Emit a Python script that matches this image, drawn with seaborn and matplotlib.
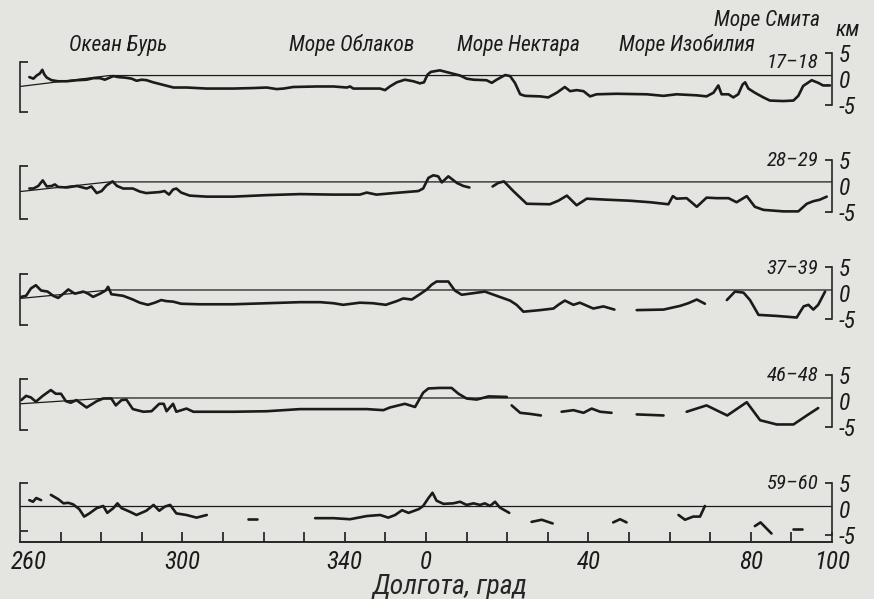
import numpy as np
import pandas as pd
import matplotlib.pyplot as plt
import matplotlib.transforms as mtransforms
import seaborn as sns

# === профили высот (долгота: 260..360 -> -100..0), км ===
nan = np.nan

lon_17 = [-97.7, -96.7, -95.9, -95.1, -94.5, -94.0, -93.4, -92.2, -90.6, -88.5,
          -86.0, -83.6, -81.9, -80.3, -79.1, -78.2, -77.0, -75.8, -74.1, -72.5,
          -71.3, -70.0, -68.8, -67.2, -64.7, -62.2, -58.9, -54.0, -47.5, -42.5,
          -39.2, -36.8, -35.1, -32.7, -26.9, -22.8, -19.5, -18.7, -17.9, -14.6,
          -11.3, -10.1, -8.9, -7.2, -5.2, -3.1, -1.5, -0.5, 0.4, 1.2,
          3.4, 5.9, 8.4, 10.0, 11.7, 14.9, 16.2, 17.4, 19.5, 20.7,
          21.9, 23.2, 24.4, 28.1, 30.1, 32.2, 34.2, 35.5, 37.1, 38.8,
          40.4, 42.0, 46.9, 54.4, 58.5, 61.7, 66.7, 69.1, 70.8, 72.0,
          72.8, 74.5, 75.7, 76.9, 78.0, 78.6, 79.4, 81.0, 83.1, 84.7,
          88.0, 90.5, 91.7, 92.9, 95.0, 96.6, 97.8, 99.5]
km_17 = [-0.3, -0.6, 0.0, 0.4, 1.1, 0.2, -0.4, -0.9, -1.1, -1.1,
         -0.9, -0.8, -0.5, -0.5, -0.8, -0.5, -0.1, -0.3, -0.4, -0.6,
         -1.0, -0.8, -0.9, -1.3, -1.8, -2.3, -2.3, -2.5, -2.5, -2.4,
         -2.3, -2.6, -2.5, -2.2, -2.1, -2.1, -2.3, -2.1, -2.5, -2.5,
         -2.5, -2.8, -2.1, -1.3, -0.8, -1.1, -1.5, -1.3, 0.2, 0.7,
         1.0, 0.5, 0.0, -0.6, -0.8, -0.9, -1.4, -0.8, 0.1, -0.1,
         -1.4, -3.6, -3.9, -4.0, -4.2, -3.3, -2.2, -3.0, -2.8, -3.0,
         -4.0, -3.6, -3.5, -3.6, -3.9, -3.6, -3.8, -4.0, -3.3, -1.9,
         -3.6, -3.6, -4.2, -3.6, -1.7, -1.3, -2.5, -3.3, -4.2, -4.8,
         -4.9, -4.8, -3.9, -2.0, -0.9, -1.4, -1.9, -1.9]

lon_28 = [-97.7, -96.7, -95.5, -94.4, -93.4, -92.2, -91.4, -90.6, -88.5, -86.0,
          -83.6, -82.4, -81.1, -79.9, -78.7, -77.2, -76.1, -74.6, -72.2, -70.5,
          -68.9, -65.6, -64.4, -63.3, -62.3, -61.5, -60.3, -58.2, -54.0, -47.5,
          -39.2, -31.0, -22.8, -16.3, -14.6, -12.2, -8.0, -1.9, -0.7, 0.6,
          1.8, 3.0, 3.9, 5.5, 7.6, 9.2, 10.7, nan, 16.4, 17.8,
          19.2, 21.5, 24.8, 30.5, 32.6, 34.7, 37.1, 39.6, 44.5, 50.2,
          55.2, 59.7, 60.8, 61.7, 64.2, 66.7, 69.1, 71.6, 74.5, 76.5,
          79.0, 81.0, 83.1, 88.0, 91.7, 93.8, 95.4, 97.0, 98.7]
km_28 = [-1.3, -1.3, -0.8, 0.3, -0.9, -0.8, -0.5, -1.0, -1.1, -0.8,
         -1.3, -0.9, -2.2, -1.8, -0.7, 0.1, -0.8, -1.3, -1.3, -1.9,
         -2.2, -2.0, -1.8, -2.5, -1.5, -1.3, -2.1, -2.7, -2.9, -2.9,
         -2.6, -2.4, -2.5, -2.5, -2.1, -2.5, -2.2, -1.8, -1.3, 0.8,
         1.3, 1.1, -0.1, 1.1, -0.2, -0.8, -1.1, nan, -0.9, -0.2,
         0.1, -1.8, -4.3, -4.4, -3.7, -2.7, -4.6, -3.3, -3.5, -3.7,
         -4.0, -4.4, -2.8, -3.3, -3.2, -4.9, -3.1, -3.2, -3.2, -4.0,
         -2.8, -4.9, -5.5, -5.8, -5.8, -4.3, -3.8, -3.5, -2.9]

lon_37 = [-99.7, -98.5, -97.3, -96.1, -94.8, -93.2, -91.8, -90.6, -89.3, -88.1,
          -86.5, -84.4, -83.2, -82.0, -80.3, -78.9, -78.3, -77.5, -74.6, -72.2,
          -70.5, -68.5, -66.8, -65.2, -64.0, -62.3, -60.3, -55.7, -47.5, -39.2,
          -31.0, -26.1, -22.8, -20.4, -16.3, -13.1, -9.9, -7.2, -5.6, -3.5,
          -1.5, 0.2, 1.4, 2.6, 5.5, 7.1, 8.8, 11.7, 14.5, 17.4,
          20.7, 22.3, 24.0, 28.1, 31.4, 32.6, 34.2, 36.3, 37.9, 41.2,
          43.7, 46.4, nan, 51.9, 58.5, 62.6, 64.6, 66.7, 68.7, nan,
          74.1, 76.1, 78.2, 79.8, 81.9, 86.4, 91.3, 93.0, 94.2, 95.4,
          96.6, 98.3]
km_37 = [-1.3, -1.1, 0.3, 0.9, -0.1, -0.3, -1.1, -1.5, -0.7, 0.1,
         -0.7, -0.3, -0.7, -1.3, -0.7, -0.1, 0.6, -0.8, -1.1, -1.8,
         -2.4, -2.8, -2.4, -1.9, -2.1, -2.2, -2.6, -2.7, -2.7, -2.5,
         -2.3, -2.3, -2.5, -2.8, -2.4, -2.5, -2.8, -2.1, -1.6, -1.8,
         -0.8, 0.1, 1.0, 1.6, 1.6, -0.1, -0.9, -0.6, -0.3, -1.1,
         -2.0, -2.8, -4.1, -3.8, -3.5, -2.8, -2.0, -2.8, -2.4, -3.5,
         -3.1, -3.7, nan, -3.8, -3.7, -3.0, -2.5, -1.8, -2.6, nan,
         -1.9, -0.3, -0.5, -1.9, -4.7, -4.9, -5.2, -3.1, -2.8, -3.7,
         -2.8, -0.3]

lon_46 = [-99.7, -98.5, -97.3, -96.1, -94.4, -92.4, -91.2, -89.9, -88.7, -87.5,
          -86.1, -83.6, -81.1, -79.5, -77.5, -76.4, -75.0, -73.8, -72.2, -69.6,
          -67.6, -65.7, -64.6, -63.9, -62.3, -61.5, -59.0, -57.3, -47.5, -39.2,
          -31.0, -22.8, -14.6, -10.5, -8.9, -5.2, -2.7, -0.7, 0.6, 3.4,
          6.3, 8.0, 10.0, 12.5, 15.4, 19.9, nan, 21.1, 23.2, 25.6,
          28.3, nan, 33.4, 36.3, 38.8, 40.8, 42.9, 45.7, nan, 51.9,
          58.5, nan, 64.2, 69.1, 74.2, 79.0, 82.3, 86.4, 90.5, 93.8,
          96.6]
km_46 = [-0.4, 0.4, 0.1, -0.7, 0.4, 1.5, 0.8, 0.8, -0.6, -0.9,
         -0.4, -1.8, -0.6, -0.1, -0.1, -1.4, -0.4, -0.3, -2.1, -2.6,
         -2.5, -1.1, -1.1, -2.5, -1.1, -2.6, -2.0, -2.6, -2.6, -2.5,
         -2.1, -2.1, -2.1, -2.3, -1.8, -1.1, -1.7, 1.0, 1.8, 1.9,
         1.9, 0.8, -0.1, -0.3, 0.3, 0.2, nan, -1.4, -2.8, -3.0,
         -3.3, nan, -2.6, -2.3, -2.8, -2.0, -2.6, -2.8, nan, -3.1,
         -3.3, nan, -2.6, -1.4, -3.3, -0.8, -4.2, -5.0, -5.0, -3.3,
         -1.9]

lon_59 = [-97.7, -96.8, -96.0, -94.8, nan, -92.4, -90.6, -89.3, -88.1, -86.9,
          -85.4, -84.2, -82.9, -81.1, -79.5, -78.5, -77.0, -76.0, -75.0, -72.9,
          -71.3, -68.9, -67.1, -65.7, -64.3, -63.0, -61.5, -59.0, -56.5, -54.0,
          nan, -43.8, -41.7, nan, -27.3, -22.8, -18.7, -14.6, -11.3, -9.3,
          -7.6, -5.9, -4.3, -1.8, -0.7, 0.6, 1.6, 2.6, 4.3, 6.7,
          8.4, 10.0, 11.7, 13.3, 14.5, 15.8, 17.0, 18.2, 20.5, nan,
          26.0, 28.5, 31.2, nan, 46.1, 47.8, 49.4, nan, 62.2, 63.8,
          65.8, 67.5, 68.7, nan, 81.0, 82.4, 85.1, nan, 90.5, 92.5]
km_59 = [1.1, 0.8, 1.5, 1.1, nan, 2.1, 1.3, 0.5, 0.6, 0.3,
         -0.6, -2.0, -1.4, -0.4, 0.0, -1.3, -0.4, 0.5, -0.4, -1.1,
         -1.7, -0.9, 0.2, -0.9, -0.1, 0.2, -1.4, -1.7, -2.2, -1.7,
         nan, -2.5, -2.5, nan, -2.3, -2.3, -2.5, -1.9, -1.7, -2.2,
         -1.7, -0.8, -1.3, -0.6, 0.0, 1.5, 2.5, 1.0, 0.4, 0.5,
         0.8, 0.2, 0.5, 0.2, 0.5, 0.0, 0.8, -0.3, -1.3, nan,
         -3.0, -2.6, -3.3, nan, -3.1, -2.5, -3.1, nan, -1.7, -2.6,
         -2.0, -2.0, 0.0, nan, -3.8, -3.1, -5.2, nan, -4.4, -4.4]

lat_labels = ['17–18', '28–29', '37–39', '46–48', '59–60']
lat_y = [2.5, 4.3, 4.1, 4.3, 4.3]
zero_left = [-2.1, -1.9, -1.6, -1.1, 0.0]      # начало наклонной нулевой линии
left_br = [(-7.0, 2.6), (-7.3, 3.1), (-6.6, 3.1), (-6.0, 3.5), (-4.8, 4.3)]
right_br = (-5.5, 4.3)

seas = ['Океан Бурь', 'Море Облаков', 'Море Нектара', 'Море Изобилия', 'Море Смита']
sea_x = [-75.9, -18.2, 22.7, 64.3, 84.0]
sea_y = [5.8, 5.8, 5.8, 5.8, 10.6]

xtick_pos = [-100, -60, -20, 0, 40, 80, 100]
xtick_lab = ['260', '300', '340', '0', '40', '80', '100']

profiles = [(lon_17, km_17), (lon_28, km_28), (lon_37, km_37),
            (lon_46, km_46), (lon_59, km_59)]

# === оформление ===
bg = '#e4e4e1'
ink = '#1b1b1b'
sns.set_theme(style='ticks')
plt.rcParams['font.family'] = ['Roboto Condensed', 'DejaVu Sans']
plt.rcParams['font.style'] = 'italic'
plt.rcParams['text.color'] = ink
plt.rcParams['xtick.color'] = ink
plt.rcParams['ytick.color'] = ink

fig = plt.figure(figsize=(8.74, 5.99), dpi=100, facecolor=bg)
zero_px = [76, 183, 290, 398, 506]
ylim = (-6.8, 5.0)

axes = []
for i, (lon, km) in enumerate(profiles):
    bottom = 1 - (zero_px[i] + 36) / 599
    ax = fig.add_axes([20 / 874, bottom, 812 / 874, 62.5 / 599])
    ax.set_facecolor('none')

    df = pd.DataFrame({'lon': lon, 'km': km})
    df['seg'] = df['lon'].isna().cumsum()
    df = df.dropna()

    # нулевой уровень
    ax.plot([-100, -78, 100], [zero_left[i], 0, 0], color=ink, lw=0.9)
    sns.lineplot(data=df, x='lon', y='km', units='seg', estimator=None, sort=False,
                 color=ink, lw=1.9, ax=ax)

    ax.set_xlim(-100, 100)
    ax.set_ylim(*ylim)
    ax.set_xlabel('')
    ax.set_ylabel('')

    # левая скобка
    for s in ['top', 'right']:
        ax.spines[s].set_visible(False)
    ax.spines['left'].set_bounds(*left_br[i])
    ax.spines['left'].set_linewidth(1.2)
    ax.set_yticks(list(left_br[i]))
    ax.set_yticklabels(['', ''])
    ax.tick_params(axis='y', left=True, direction='in', length=6, width=1.2)

    # правая шкала
    axr = ax.twinx()
    axr.set_ylim(*ylim)
    for s in ['top', 'bottom', 'left']:
        axr.spines[s].set_visible(False)
    axr.spines['right'].set_bounds(*right_br)
    axr.spines['right'].set_linewidth(1.2)
    axr.set_yticks([right_br[0], -0.6, right_br[1]])
    axr.set_yticklabels(['-5', '0', '5'], fontsize=17)
    axr.tick_params(axis='y', right=True, direction='in', length=5, width=1.2, pad=5)
    axr.yaxis.get_major_ticks()[1].tick2line.set_visible(False)

    ax.text(96.6, lat_y[i], lat_labels[i], ha='right', va='center', fontsize=15)

    if i < 4:
        ax.spines['bottom'].set_visible(False)
        ax.tick_params(axis='x', bottom=False, labelbottom=False)
    axes.append(ax)

# нижняя ось
axb = axes[-1]
axb.spines['bottom'].set_linewidth(1.4)
axb.set_xticks(np.arange(-100, 101, 10))
axb.set_xticklabels([xtick_lab[xtick_pos.index(t)] if t in xtick_pos else ''
                     for t in range(-100, 101, 10)], fontsize=18)
axb.tick_params(axis='x', bottom=True, direction='in', length=7, width=1.2, pad=6)
first = axb.get_xticklabels()[0]
first.set_transform(first.get_transform() +
                    mtransforms.ScaledTranslation(9 / 100, 0, fig.dpi_scale_trans))
axb.set_xlabel('Долгота, град', fontsize=20)
axb.xaxis.set_label_coords(0.53, -0.52)

# подписи морей
top = axes[0]
for name, x, y in zip(seas, sea_x, sea_y):
    top.text(x, y, name, ha='center', va='center', fontsize=15.5)
top.text(103.9, 8.7, 'км', ha='center', va='center', fontsize=16)

fig.savefig('out.png', dpi=100, facecolor=bg)
